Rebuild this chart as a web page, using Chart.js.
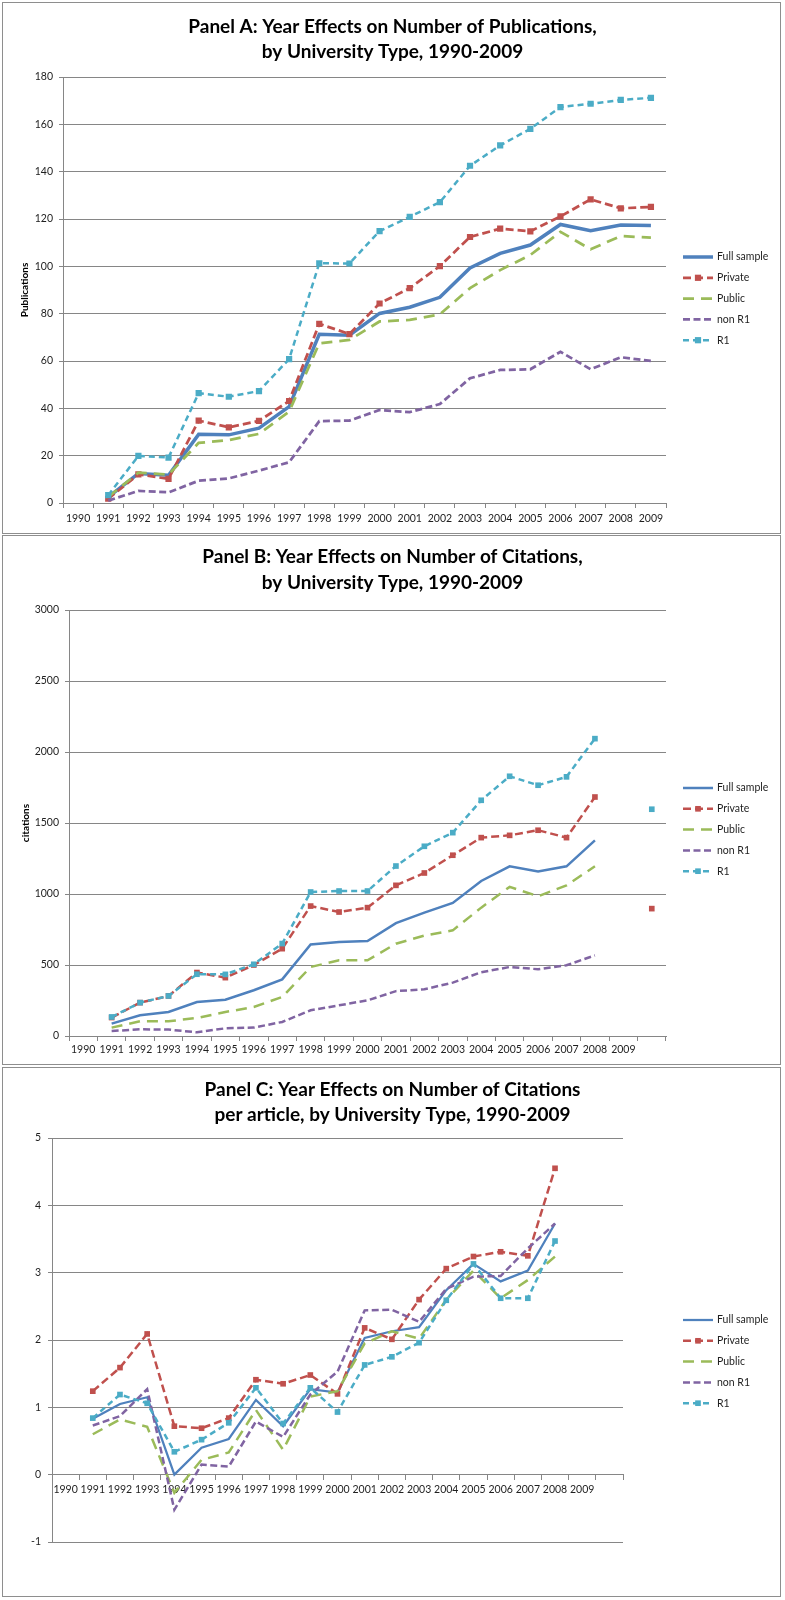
<!DOCTYPE html>
<html><head><meta charset="utf-8">
<script src="https://cdn.jsdelivr.net/npm/chart.js@4.4.1/dist/chart.umd.min.js"></script>
<style>
html,body{margin:0;padding:0;background:#fff;}
.panel{position:absolute;left:2px;width:777px;border:1px solid #8e8e8e;background:#fff;}
.panel canvas{display:block;}
</style></head><body>
<div class="panel" style="top:2px;height:530px"><canvas id="cA" width="777" height="530"></canvas></div>
<div class="panel" style="top:535px;height:528px"><canvas id="cB" width="777" height="528"></canvas></div>
<div class="panel" style="top:1067px;height:528px"><canvas id="cC" width="777" height="528"></canvas></div>
<script>
// ---------- data ----------
const SERIES = ['Full sample', 'Private', 'Public', 'non R1', 'R1'];
const yearsA = ['1990','1991','1992','1993','1994','1995','1996','1997','1998','1999','2000','2001','2002','2003','2004','2005','2006','2007','2008','2009'];
const yearsBC = yearsA.concat(['']);

// Panel A: publications
const pubFull    = [null, 2.5, 12.5, 11.7, 29.0, 28.8, 31.6, 40.7, 71.3, 70.9, 80.1, 82.7, 86.9, 99.3, 105.5, 109.0, 117.7, 115.0, 117.5, 117.3];
const pubPrivate = [null, 1.8, 12.1, 10.2, 34.8, 32.0, 34.7, 43.1, 75.7, 71.4, 84.3, 90.8, 100.1, 112.4, 115.9, 114.8, 121.1, 128.3, 124.5, 125.1];
const pubPublic  = [null, 2.6, 12.8, 12.0, 25.4, 26.6, 29.2, 38.6, 67.5, 68.9, 76.7, 77.4, 79.7, 90.8, 98.4, 104.8, 114.6, 107.2, 112.8, 112.1];
const pubNonR1   = [null, 1.0, 5.1, 4.5, 9.4, 10.4, 13.7, 17.2, 34.6, 34.8, 39.3, 38.4, 41.8, 52.7, 56.2, 56.5, 63.9, 56.5, 61.6, 60.0];
const pubR1      = [null, 3.3, 19.9, 19.2, 46.4, 44.9, 47.3, 60.8, 101.3, 101.2, 114.9, 120.9, 127.1, 142.5, 151.1, 158.1, 167.3, 168.7, 170.3, 171.2];

// Panel B: citations
const citFull    = [null, 87, 146, 169, 239, 256, 322, 399, 644, 662, 669, 795, 869, 937, 1092, 1195, 1158, 1195, 1378, null, null];
const citPrivate = [null, 130, 235, 282, 447, 411, 500, 615, 915, 873, 904, 1061, 1148, 1273, 1397, 1413, 1449, 1397, 1683, null, 897];
const citPublic  = [null, 59, 104, 104, 127, 169, 204, 275, 486, 533, 533, 650, 707, 744, 904, 1050, 984, 1061, 1195, null, null];
const citNonR1   = [null, 35, 47, 45, 26, 54, 59, 99, 181, 216, 251, 316, 329, 376, 449, 486, 470, 498, 568, null, null];
const citR1      = [null, 134, 235, 282, 435, 434, 505, 651, 1014, 1021, 1021, 1197, 1336, 1432, 1660, 1829, 1766, 1825, 2094, null, 1597];

// Panel C: citations per article
const cpaFull    = [null, 0.83, 1.05, 1.15, 0.00, 0.40, 0.53, 1.11, 0.72, 1.27, 1.22, 2.03, 2.13, 2.19, 2.74, 3.13, 2.87, 3.03, 3.73, null, null];
const cpaPrivate = [null, 1.24, 1.59, 2.09, 0.72, 0.69, 0.84, 1.41, 1.35, 1.48, 1.20, 2.18, 2.01, 2.60, 3.06, 3.24, 3.31, 3.25, 4.55, null, null];
const cpaPublic  = [null, 0.60, 0.82, 0.71, -0.27, 0.22, 0.33, 0.96, 0.37, 1.16, 1.24, 1.95, 2.13, 2.02, 2.60, 3.03, 2.62, 2.89, 3.24, null, null];
const cpaNonR1   = [null, 0.73, 0.87, 1.27, -0.52, 0.15, 0.12, 0.79, 0.56, 1.19, 1.53, 2.44, 2.45, 2.27, 2.76, 2.94, 2.95, 3.36, 3.73, null, null];
const cpaR1      = [null, 0.84, 1.19, 1.06, 0.34, 0.52, 0.77, 1.29, 0.76, 1.29, 0.93, 1.63, 1.75, 1.96, 2.59, 3.13, 2.62, 2.62, 3.47, null, null];

// ---------- styling ----------
const FONT = 'Lato';
const GRID = '#868686';
const TXT = '#1e1e1e';
const LOOK = [
  {color:'#4F81BD', dash:[],      marker:false},
  {color:'#C0504D', dash:[8,4],   marker:true},
  {color:'#9BBB59', dash:[11,7],  marker:false},
  {color:'#8064A2', dash:[7,3.5], marker:false},
  {color:'#4BACC6', dash:[6,4],   marker:true}
];

function mkDatasets(values, widths, markerR) {
  return values.map((v, i) => ({
    label: SERIES[i],
    data: v,
    borderColor: LOOK[i].color,
    backgroundColor: LOOK[i].color,
    pointBackgroundColor: LOOK[i].color,
    borderWidth: widths[i],
    borderDash: LOOK[i].dash,
    pointStyle: 'rect',
    pointRadius: LOOK[i].marker ? markerR : 0,
    pointHoverRadius: 0,
    pointBorderWidth: 0,
    tension: 0,
    spanGaps: false,
    fill: false,
    order: 5 - i
  }));
}

const deco = {
  id: 'deco',
  afterDraw(chart, args, o) {
    const ctx = chart.ctx;
    ctx.save();
    ctx.fillStyle = '#000';
    ctx.textAlign = 'center';
    ctx.textBaseline = 'middle';
    ctx.font = `bold ${o.titleSize}px ${FONT}`;
    o.title.forEach((t, i) => ctx.fillText(t, o.titleX, o.titleY[i]));
    ctx.font = `${o.legendSize}px ${FONT}`;
    ctx.textAlign = 'left';
    chart.data.datasets.forEach((ds, i) => {
      const y = o.legendY + i * o.legendStep;
      ctx.save();
      ctx.strokeStyle = ds.borderColor;
      ctx.lineWidth = ds.borderWidth;
      ctx.setLineDash(ds.borderDash || []);
      ctx.beginPath();
      ctx.moveTo(o.legendX0, y);
      ctx.lineTo(o.legendX1, y);
      ctx.stroke();
      ctx.restore();
      if (ds.pointRadius > 0) {
        const s = ds.pointRadius * Math.SQRT2;
        ctx.fillStyle = ds.borderColor;
        ctx.fillRect((o.legendX0 + o.legendX1) / 2 - s / 2, y - s / 2, s, s);
      }
      ctx.fillStyle = TXT;
      ctx.fillText(ds.label, o.legendX1 + 4, y);
    });
    ctx.restore();
  }
};

function makeChart(id, cfg) {
  const canvas = document.getElementById(id);
  const H = canvas.height, W = canvas.width;
  const xScale = {
    type: 'category',
    offset: true,
    grid: {offset: true, drawOnChartArea: false, drawTicks: true, tickLength: 5, color: GRID},
    border: {display: true, color: GRID, width: 1},
    ticks: {autoSkip: false, maxRotation: 0, minRotation: 0, padding: cfg.xPad, color: TXT, font: {family: FONT, size: 10.5}},
    afterFit(s) { s.height = H - cfg.plot.bottom; }
  };
  if (cfg.xAtZero) xScale.position = {y: 0};
  const yScale = {
    min: cfg.yMin, max: cfg.yMax,
    ticks: {stepSize: cfg.yStep, padding: cfg.yPad, color: TXT, font: {family: FONT, size: 10.5}, callback: v => String(v)},
    grid: {color: GRID, tickLength: 4, drawTicks: true, lineWidth: 1},
    border: {display: true, color: GRID, width: 1},
    afterFit(s) { s.width = cfg.plot.left; }
  };
  if (cfg.yTitle) {
    yScale.title = {display: true, text: cfg.yTitle, color: '#000', font: {family: FONT, size: 10, weight: 'bold'}, padding: {top: cfg.yTitleX - 6, bottom: 0}};
  }
  return new Chart(canvas, {
    type: 'line',
    data: {labels: cfg.labels, datasets: cfg.datasets},
    options: {
      responsive: false,
      animation: false,
      devicePixelRatio: 1,
      events: [],
      layout: {padding: {left: 0, top: cfg.plot.top, right: W - cfg.plot.right, bottom: cfg.xAtZero ? H - cfg.plot.bottom : 0}},
      scales: {x: xScale, y: yScale},
      plugins: {
        legend: {display: false},
        title: {display: false},
        tooltip: {enabled: false},
        deco: {
          title: cfg.title, titleX: 389.5, titleY: cfg.titleY, titleSize: 19,
          legendX0: 680, legendX1: 710, legendY: cfg.legendY, legendStep: 20.8, legendSize: 10.5
        }
      }
    },
    plugins: [deco]
  });
}

makeChart('cA', {
  labels: yearsA,
  datasets: mkDatasets([pubFull, pubPrivate, pubPublic, pubNonR1, pubR1], [3.5, 2.75, 2.75, 2.75, 2.5], 4.4),
  plot: {left: 60, top: 74, right: 663, bottom: 500},
  yMin: 0, yMax: 180, yStep: 20, yPad: 6, xPad: 4,
  yTitle: 'Publications', yTitleX: 22,
  title: ['Panel A: Year Effects on Number of Publications,', 'by University Type, 1990-2009'],
  titleY: [24, 49], legendY: 254
});

makeChart('cB', {
  labels: yearsBC,
  datasets: mkDatasets([citFull, citPrivate, citPublic, citNonR1, citR1], [2.5, 2.5, 2.5, 2.5, 2.5], 4.0),
  plot: {left: 66, top: 74, right: 663, bottom: 500},
  yMin: 0, yMax: 3000, yStep: 500, yPad: 6, xPad: 2,
  yTitle: 'citations', yTitleX: 23,
  title: ['Panel B: Year Effects on Number of Citations,', 'by University Type, 1990-2009'],
  titleY: [21, 47], legendY: 252
});

makeChart('cC', {
  labels: yearsBC,
  datasets: mkDatasets([cpaFull, cpaPrivate, cpaPublic, cpaNonR1, cpaR1], [2.25, 2.5, 2.5, 2.5, 2.5], 4.0),
  plot: {left: 49, top: 70, right: 620, bottom: 474},
  yMin: -1, yMax: 5, yStep: 1, yPad: 7, xPad: 4, xAtZero: true,
  title: ['Panel C: Year Effects on Number of Citations', 'per article, by University Type, 1990-2009'],
  titleY: [22, 47], legendY: 252
});
</script>
</body></html>
